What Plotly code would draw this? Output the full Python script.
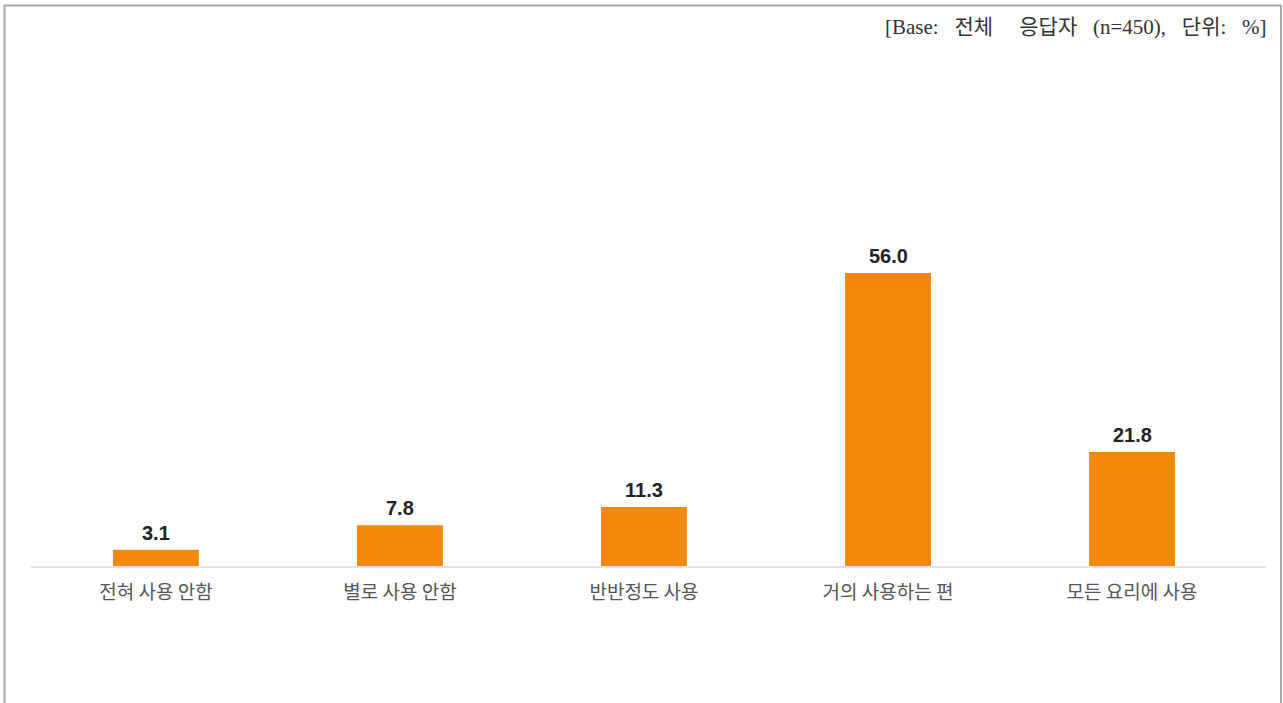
import plotly.graph_objects as go

categories = ["전혀 사용 안함", "별로 사용 안함", "반반정도 사용", "거의 사용하는 편", "모든 요리에 사용"]
values = [3.1, 7.8, 11.3, 56.0, 21.8]
value_labels = ["3.1", "7.8", "11.3", "56.0", "21.8"]
note_text = "[Base:   전체     응답자   (n=450),   단위:   %]"

W, H = 1283, 703
L, R, T, B = 31, 17, 100, 137
pw, ph = W - L - R, H - T - B

def px_x(x):
    return (x - L) / pw

def px_y(y):
    return (H - B - y) / ph

fig = go.Figure()
fig.add_trace(go.Bar(
    x=categories, y=values,
    marker=dict(color="#F4880B", line=dict(width=0)),
    width=0.352, cliponaxis=False, hoverinfo="x+y",
))

annotations = [dict(
    x=c, y=v, text=t, xref="x", yref="y", showarrow=False,
    xanchor="center", yanchor="middle", yshift=17,
    font=dict(family="Liberation Sans, Arial, sans-serif", size=20, color="#222222", weight="bold"),
) for c, v, t in zip(categories, values, value_labels)]

annotations.append(dict(
    text=note_text, xref="paper", yref="paper",
    x=px_x(1269), y=px_y(27), xanchor="right", yanchor="middle",
    showarrow=False,
    font=dict(family="Liberation Serif, Noto Sans CJK KR, serif", size=21, color="#333333"),
))

fig.update_layout(
    width=W, height=H,
    margin=dict(l=L, r=R, t=T, b=B),
    paper_bgcolor="white", plot_bgcolor="white",
    showlegend=False,
    font=dict(family="Noto Sans CJK KR, sans-serif"),
    xaxis=dict(
        type="category", range=[-0.512, 4.549],
        showline=True, linecolor="#e2e2e2", linewidth=2,
        showgrid=False, ticks="", ticklabelstandoff=8,
        tickfont=dict(family="Noto Sans CJK KR, sans-serif", size=19, color="#555555"),
    ),
    yaxis=dict(range=[0, ph / 5.23], visible=False, showgrid=False, zeroline=False),
    shapes=[dict(
        type="rect", xref="paper", yref="paper",
        x0=px_x(4.5), x1=px_x(1281), y0=px_y(5.5), y1=px_y(720),
        line=dict(color="#a8a8a8", width=2), fillcolor="rgba(0,0,0,0)", layer="above",
    )],
    annotations=annotations,
)

fig.write_html(
    "out.html",
    config={"displayModeBar": False},
    post_script="document.body.style.margin='0';document.body.style.overflow='hidden';",
)
